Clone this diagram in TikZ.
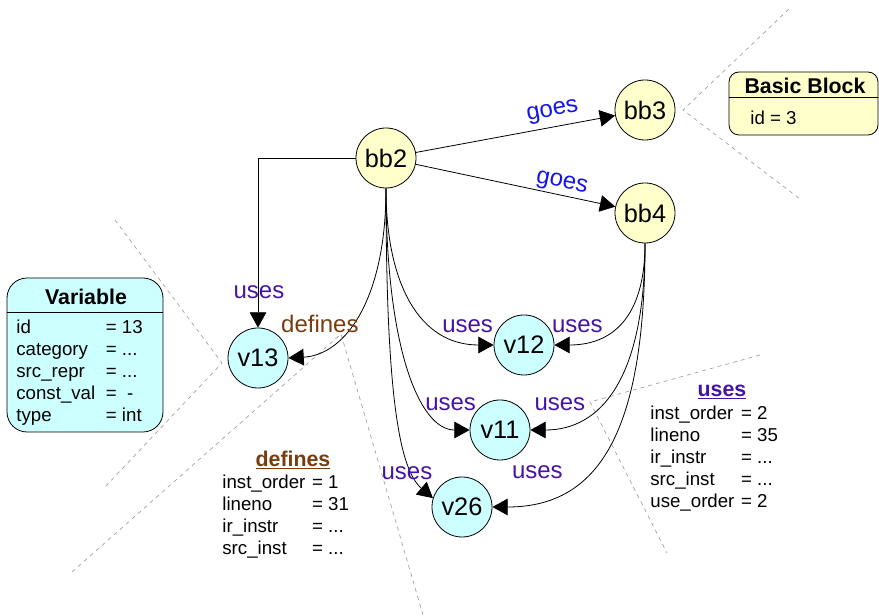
\documentclass[tikz,border=0pt]{standalone}
\usepackage{fontspec}
\setmainfont{Liberation Sans}
\usepackage{xcolor}
\usepackage{tikz}
\usetikzlibrary{positioning}
\usetikzlibrary{arrows.meta}
\usetikzlibrary{calc}

\definecolor{bbfill}{RGB}{255,255,204}
\definecolor{varfill}{RGB}{204,255,255}
\definecolor{usecol}{RGB}{70,20,165}
\definecolor{defcol}{RGB}{120,60,15}
\definecolor{goescol}{RGB}{20,20,235}

\begin{document}
\begin{tikzpicture}[x=0.75pt, y=-0.75pt, line width=0.6pt,
		bbnode/.style={circle, draw, fill=bbfill, minimum size=45pt, inner sep=0pt, font=\fontsize{19}{21}\selectfont},
		varnode/.style={bbnode, fill=varfill},
		link/.style={-{Triangle[length=11.5pt,width=12.5pt]}},
		uselbl/.style={text=usecol, font=\fontsize{18}{20}\selectfont, inner sep=1pt},
		deflbl/.style={uselbl, text=defcol},
		goeslbl/.style={uselbl, text=goescol, sloped},
		callout/.style={draw=gray!75, line width=0.5pt, dash pattern=on 3pt off 3pt},
		info/.style={font=\fontsize{14}{16.5}\selectfont, inner sep=0pt, align=left, anchor=north west},
		head/.style={font=\bfseries\fontsize{16}{18}\selectfont, inner sep=0pt}]
		\useasboundingbox (0,0) rectangle (879,616);

		% Callout lines
		\coordinate (bbtip) at (683,110);
		\coordinate (vartip) at (222,363);
		\coordinate (deftip) at (341,334);
		\coordinate (usetip) at (590,402);
		\draw[callout] (789,9) -- (bbtip) -- (800,199);
		\draw[callout] (115,220) -- (vartip) -- (105,487);
		\draw[callout] (72,572) -- (deftip) -- (423,615);
		\draw[callout] (760,355) -- (usetip) -- (667,553);

		% Basic blocks
		\node[bbnode] (bb2) at (386,158) {bb2};
		\node[bbnode] (bb3) at (645,110) {bb3};
		\node[bbnode] (bb4) at (645,213) {bb4};

		% Variables
		\node[varnode] (v13) at (258,358) {v13};
		\node[varnode] (v12) at (524,345) {v12};
		\node[varnode] (v11) at (500,430) {v11};
		\node[varnode] (v26) at (462,507) {v26};

		% goes
		\draw[link] (bb2) -- (bb3) node[goeslbl, pos=0.7, above=3pt] (g3) {goes};
		\draw[link] (bb2) -- (bb4) node[goeslbl, pos=0.72, above=0.5pt] (g4) {goes};

		% defines and uses from bb2
		\draw[link] (bb2.west) -| (v13.north)
			node[uselbl, pos=1, xshift=0.75pt, yshift=26.6pt] (u13) {uses};
		\draw[link] (bb2.south) .. controls (386,300) and (345,355) .. (v13.east)
			node[deflbl, pos=1, xshift=23.6pt, yshift=25.5pt] (d13) {defines};
		\draw[link] (bb2.south) .. controls (386,285) and (420,345) .. (v12.west)
			node[uselbl, pos=1, xshift=-19.5pt, yshift=14.25pt] (u12a) {uses};
		\draw[link] (bb2.south) .. controls (386,350) and (420,430) .. (v11.west)
			node[uselbl, pos=1, xshift=-14.25pt, yshift=19.1pt] (u11a) {uses};
		\draw[link] (bb2.south) .. controls (386,400) and (400,470) .. (v26.163)
			node[uselbl, pos=1, xshift=-19.5pt, yshift=18.75pt] (u26a) {uses};

		% uses from bb4
		\draw[link] (bb4.south) .. controls (645,320) and (610,345) .. (v12.east)
			node[uselbl, pos=1, xshift=17.25pt, yshift=14.25pt] (u12b) {uses};
		\draw[link] (bb4.south) .. controls (645,380) and (600,430) .. (v11.east)
			node[uselbl, pos=1, xshift=22.1pt, yshift=19.1pt] (u11b) {uses};
		\draw[link] (bb4.south) .. controls (645,430) and (600,507) .. (v26.east)
			node[uselbl, pos=1, xshift=33.75pt, yshift=26.25pt] (u26b) {uses};

		% Variable box
		\node[draw, rounded corners=15pt, fill=varfill, minimum width=117pt, minimum height=115.5pt, inner sep=0pt] (varbox) at (85,355) {};
		\draw (7,312) -- (163,312);
		\node[head] (varhead) at (86,297) {Variable};
		\node[info] (varbody) at (16,317.5) {\begin{tabular}{@{}l@{\hspace{8pt}}l@{}}
				id & = 13\\
				category & = ...\\
				src\_repr & = ...\\
				const\_val & = \ -\\
				type & = int
			\end{tabular}};

		% Basic Block box
		\node[draw, rounded corners=7.5pt, fill=bbfill, minimum width=111.75pt, minimum height=47.25pt, inner sep=0pt] (bbbox) at (803.5,103.5) {};
		\draw (729,97) -- (878,97);
		\node[head] (bbhead) at (805,86) {Basic Block};
		\node[info, anchor=west] (bbbody) at (750,118) {id = 3};

		% defines attributes
		\node[head, text=defcol] (defhead) at (293,460) {\underline{defines}};
		\node[info] (defbody) at (222,472.5) {\begin{tabular}{@{}l@{\hspace{5pt}}l@{}}
				inst\_order & = 1\\
				lineno & = 31\\
				ir\_instr & = ...\\
				src\_inst & = ...
			\end{tabular}};

		% uses attributes
		\node[head, text=usecol] (usehead) at (722,392) {\underline{uses}};
		\node[info] (usebody) at (650,403.5) {\begin{tabular}{@{}l@{\hspace{5pt}}l@{}}
				inst\_order & = 2\\
				lineno & = 35\\
				ir\_instr & = ...\\
				src\_inst & = ...\\
				use\_order & = 2
			\end{tabular}};
	\end{tikzpicture}
\end{document}
